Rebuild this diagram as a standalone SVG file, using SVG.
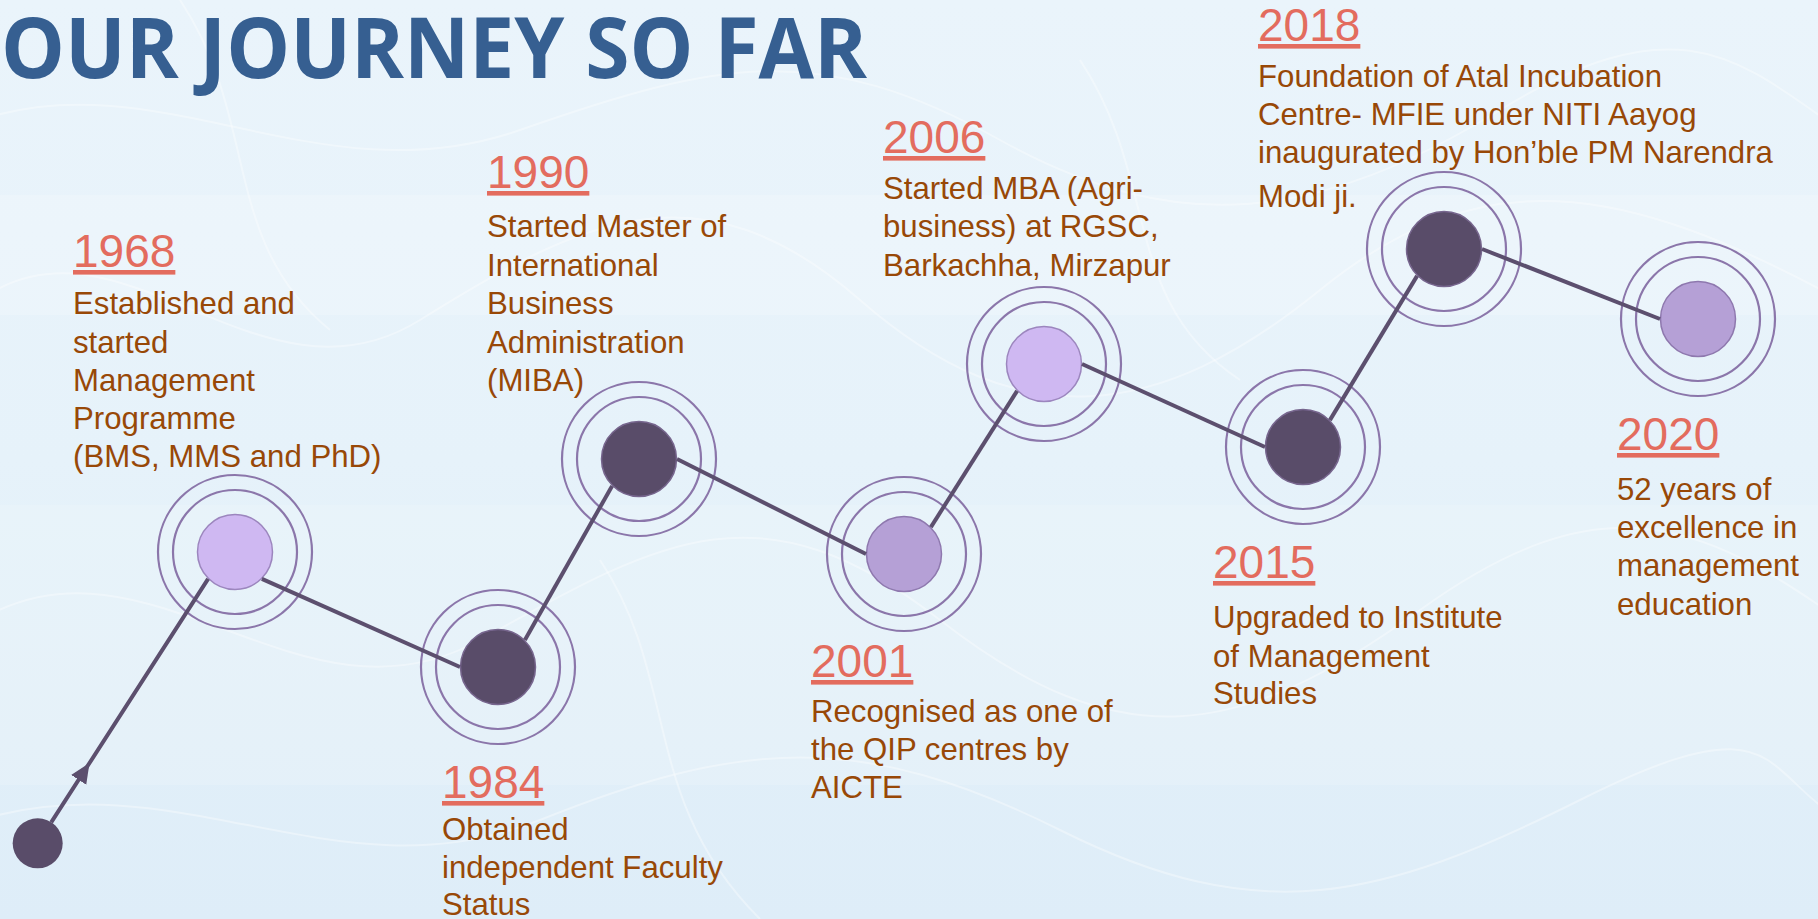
<svg xmlns="http://www.w3.org/2000/svg" width="1818" height="919" viewBox="0 0 1818 919">
  <defs>
    <linearGradient id="bg" x1="0" y1="0" x2="0" y2="1">
      <stop offset="0" stop-color="#EAF4FB"/>
      <stop offset="0.5" stop-color="#E6F2FA"/>
      <stop offset="1" stop-color="#DEEDF8"/>
    </linearGradient>
    <marker id="arrow" viewBox="0 0 20 20" refX="20" refY="10" markerWidth="20" markerHeight="20" markerUnits="userSpaceOnUse" orient="auto">
      <path d="M0,1 L20,10 L0,19 Z" fill="#5C4F6E"/>
    </marker>
    <style>
      .title { font-family: "Open Sans", "Liberation Sans", sans-serif; font-weight: 700; font-size: 85px; fill: #365F91; }
      .year { font-family: "Liberation Sans", Arial, sans-serif; font-size: 46px; fill: #E36C5E; text-decoration: underline; }
      .body { font-family: "Liberation Sans", Arial, sans-serif; font-size: 31.2px; fill: #984807; }
      .ring { fill: none; stroke: #8B76AA; stroke-width: 2.2; }
      .dark { fill: #594C69; stroke: #77668E; stroke-width: 1.5; }
      .mid { fill: #B5A0D6; stroke: #8E78AE; stroke-width: 1.5; }
      .light { fill: #CFB8F2; stroke: #9C86BE; stroke-width: 1.5; }
      .conn { fill: none; stroke: #5C4F6E; stroke-width: 4; }
      .wave { fill: none; stroke: #FFFFFF; stroke-opacity: 0.35; stroke-width: 2; }
    </style>
  </defs>

  <rect x="0" y="0" width="1818" height="919" fill="url(#bg)"/>
  <g id="background-waves">
    <rect x="0" y="195" width="1818" height="120" fill="#FFFFFF" opacity="0.18"/>
    <rect x="0" y="505" width="1818" height="280" fill="#FFFFFF" opacity="0.14"/>
    <path class="wave" d="M-20,300 C120,200 260,420 420,320 S700,160 860,300 S1160,420 1320,290 S1620,180 1840,300"/>
    <path class="wave" d="M-20,620 C150,520 300,740 480,640 S760,480 940,620 S1240,740 1420,610 S1700,520 1840,620"/>
    <path class="wave" d="M-20,120 C160,60 320,200 520,130 S820,40 1000,140 S1320,220 1500,110 S1740,60 1840,130"/>
    <path class="wave" d="M-20,820 C180,760 340,900 540,820 S860,730 1060,830 S1380,900 1580,800 S1760,770 1840,820"/>
    <path class="wave" d="M180,0 C260,120 220,240 330,330"/>
    <path class="wave" d="M1080,60 C1160,180 1120,300 1240,380"/>
    <path class="wave" d="M600,560 C680,680 640,800 760,919"/>
  </g>

  <text class="title" x="1" y="78" textLength="866" lengthAdjust="spacingAndGlyphs">OUR JOURNEY SO FAR</text>

  <g id="node-start">
    <circle cx="37.7" cy="843.3" r="25" fill="#594C69"/>
  </g>

  <g id="node-1968">
    <circle class="ring" cx="235" cy="552" r="77"/>
    <circle class="ring" cx="235" cy="552" r="62"/>
    <circle class="light" cx="235" cy="552" r="37.5"/>
    <text class="year" x="73" y="267">1968</text>
    <text class="body" x="73" y="314">Established and</text>
    <text class="body" x="73" y="352.5">started</text>
    <text class="body" x="73" y="390.5">Management</text>
    <text class="body" x="73" y="428.5">Programme</text>
    <text class="body" x="73" y="466.5">(BMS, MMS and PhD)</text>
  </g>

  <g id="node-1984">
    <circle class="ring" cx="498" cy="667" r="77"/>
    <circle class="ring" cx="498" cy="667" r="62"/>
    <circle class="dark" cx="498" cy="667" r="37.5"/>
    <text class="year" x="442" y="798">1984</text>
    <text class="body" x="442" y="840">Obtained</text>
    <text class="body" x="442" y="878">independent Faculty</text>
    <text class="body" x="442" y="915">Status</text>
  </g>

  <g id="node-1990">
    <circle class="ring" cx="639" cy="459" r="77"/>
    <circle class="ring" cx="639" cy="459" r="62"/>
    <circle class="dark" cx="639" cy="459" r="37.5"/>
    <text class="year" x="487" y="188">1990</text>
    <text class="body" x="487" y="237">Started Master of</text>
    <text class="body" x="487" y="275.5">International</text>
    <text class="body" x="487" y="314">Business</text>
    <text class="body" x="487" y="352.5">Administration</text>
    <text class="body" x="487" y="391">(MIBA)</text>
  </g>

  <g id="node-2001">
    <circle class="ring" cx="904" cy="554" r="77"/>
    <circle class="ring" cx="904" cy="554" r="62"/>
    <circle class="mid" cx="904" cy="554" r="37.5"/>
    <text class="year" x="811" y="677">2001</text>
    <text class="body" x="811" y="722">Recognised as one of</text>
    <text class="body" x="811" y="760">the QIP centres by</text>
    <text class="body" x="811" y="798">AICTE</text>
  </g>

  <g id="node-2006">
    <circle class="ring" cx="1044" cy="364" r="77"/>
    <circle class="ring" cx="1044" cy="364" r="62"/>
    <circle class="light" cx="1044" cy="364" r="37.5"/>
    <text class="year" x="883" y="153">2006</text>
    <text class="body" x="883" y="199">Started MBA (Agri-</text>
    <text class="body" x="883" y="237">business) at RGSC,</text>
    <text class="body" x="883" y="276">Barkachha, Mirzapur</text>
  </g>

  <g id="node-2015">
    <circle class="ring" cx="1303" cy="447" r="77"/>
    <circle class="ring" cx="1303" cy="447" r="62"/>
    <circle class="dark" cx="1303" cy="447" r="37.5"/>
    <text class="year" x="1213" y="578">2015</text>
    <text class="body" x="1213" y="628">Upgraded to Institute</text>
    <text class="body" x="1213" y="667">of Management</text>
    <text class="body" x="1213" y="704">Studies</text>
  </g>

  <g id="node-2018">
    <circle class="ring" cx="1444" cy="249" r="77"/>
    <circle class="ring" cx="1444" cy="249" r="62"/>
    <circle class="dark" cx="1444" cy="249" r="37.5"/>
    <text class="year" x="1258" y="41">2018</text>
    <text class="body" x="1258" y="87">Foundation of Atal Incubation</text>
    <text class="body" x="1258" y="125">Centre- MFIE under NITI Aayog</text>
    <text class="body" x="1258" y="163">inaugurated by Hon’ble PM Narendra</text>
    <text class="body" x="1258" y="207">Modi ji.</text>
  </g>

  <g id="node-2020">
    <circle class="ring" cx="1698" cy="319" r="77"/>
    <circle class="ring" cx="1698" cy="319" r="62"/>
    <circle class="mid" cx="1698" cy="319" r="37.5"/>
    <text class="year" x="1617" y="450">2020</text>
    <text class="body" x="1617" y="500">52 years of</text>
    <text class="body" x="1617" y="538">excellence in</text>
    <text class="body" x="1617" y="576">management</text>
    <text class="body" x="1617" y="615">education</text>
  </g>

  <g id="connectors">
    <path class="conn" d="M51.2,822.3 L89.5,763 L208.1,578.9" marker-mid="url(#arrow)"/>
    <path class="conn" d="M261.9,578.9 L460,667"/>
    <path class="conn" d="M524.9,640.1 L612.1,485.9"/>
    <path class="conn" d="M677,459 L866,554"/>
    <path class="conn" d="M930.9,527.1 L1017.1,390.9"/>
    <path class="conn" d="M1082,364 L1265,447"/>
    <path class="conn" d="M1329.9,420.1 L1417.1,275.9"/>
    <path class="conn" d="M1482,249 L1660,319"/>
  </g>
</svg>
